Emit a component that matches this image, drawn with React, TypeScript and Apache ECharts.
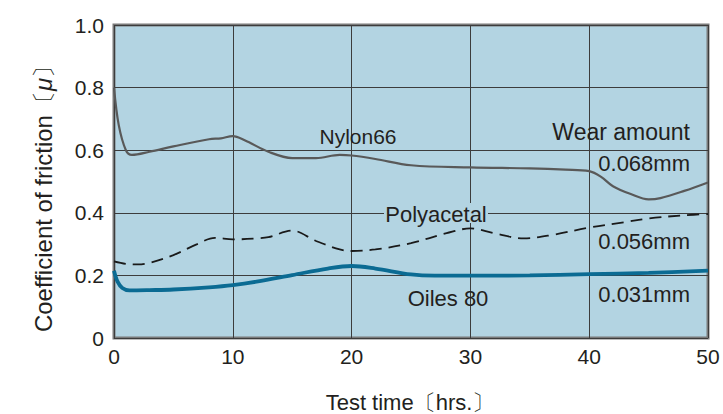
import React, { useEffect, useRef } from "react";
import * as echarts from "echarts";

const xTicks = [0, 10, 20, 30, 40, 50];
const yTicks = [0, 0.2, 0.4, 0.6, 0.8, 1.0];

const nylon66: [number, number][] = [
  [0, 0.8], [0.4, 0.68], [1, 0.6], [1.5, 0.585], [3, 0.595], [5, 0.612], [8, 0.635], [9, 0.638],
  [10, 0.645], [11, 0.632], [13, 0.595], [15, 0.575], [17, 0.575], [19, 0.585], [20, 0.583],
  [22, 0.572], [25, 0.552], [30, 0.545], [35, 0.542], [38, 0.538], [40, 0.533], [41, 0.515],
  [42, 0.485], [43.5, 0.46], [45, 0.443], [46, 0.447], [48, 0.47], [50, 0.497],
];

const polyacetal: [number, number][] = [
  [0, 0.245], [1, 0.237], [2, 0.235], [3, 0.24], [5, 0.265], [7, 0.3], [8.5, 0.32], [10, 0.315],
  [12, 0.318], [13, 0.322], [15, 0.343], [17, 0.31], [19, 0.283], [20, 0.278], [22, 0.283],
  [25, 0.303], [28, 0.335], [30, 0.35], [32, 0.335], [34.5, 0.318], [37, 0.33], [40, 0.353],
  [43, 0.37], [45, 0.382], [48, 0.392], [50, 0.396],
];

const oiles80: [number, number][] = [
  [0, 0.215], [0.3, 0.18], [0.7, 0.16], [1.3, 0.152], [3, 0.153], [5, 0.155], [8, 0.162],
  [10, 0.169], [12, 0.18], [15, 0.201], [18, 0.222], [20, 0.23], [22, 0.222], [25, 0.203],
  [27, 0.199], [30, 0.199], [35, 0.2], [40, 0.204], [45, 0.208], [50, 0.215],
];

const seriesNames = ["Nylon66", "Polyacetal", "Oiles 80"];
const wearLabels = ["Wear amount", "0.068mm", "0.056mm", "0.031mm"];

const FONT = "'Liberation Sans', Arial, sans-serif";
const BG = "#b3d4e2";
const TXT = "#231f20";

export default function App() {
  const ref = useRef<HTMLDivElement>(null);
  useEffect(() => {
    if (!ref.current) return;
    const chart = echarts.init(ref.current, undefined, { renderer: "svg" });
    const textStyle = (extra: any) => ({ fill: TXT, fontFamily: FONT, fontSize: 22, ...extra });
    chart.setOption({
      animation: false,
      backgroundColor: "#ffffff",
      grid: {
        left: 114, right: 15, top: 25, bottom: 76,
        show: true, backgroundColor: BG, borderColor: "#7a7a7a", borderWidth: 3, z: 0,
      },
      xAxis: {
        type: "value", min: xTicks[0], max: xTicks[xTicks.length - 1], interval: 10,
        axisLine: { show: false }, axisTick: { show: false },
        axisLabel: { color: TXT, fontFamily: FONT, fontSize: 21, margin: 8 },
        splitLine: { show: true, lineStyle: { color: "#3c3c3c", width: 1 } },
      },
      yAxis: {
        type: "value", min: yTicks[0], max: yTicks[yTicks.length - 1], interval: 0.2,
        axisLine: { show: false }, axisTick: { show: false },
        axisLabel: {
          color: TXT, fontFamily: FONT, fontSize: 21, margin: 10,
          formatter: (v: number) => (v === 0 ? "0" : v.toFixed(1)),
        },
        splitLine: { show: true, lineStyle: { color: "#3c3c3c", width: 1 } },
      },
      series: [
        {
          name: seriesNames[0], type: "line", data: nylon66, smooth: 0.35, symbol: "none",
          lineStyle: { color: "#595959", width: 2.2 }, z: 3,
        },
        {
          name: seriesNames[1], type: "line", data: polyacetal, smooth: 0.35, symbol: "none",
          lineStyle: { color: "#1a1a1a", width: 1.8, type: [12, 7] }, z: 3,
        },
        {
          name: seriesNames[2], type: "line", data: oiles80, smooth: 0.35, symbol: "none",
          lineStyle: { color: "#0b6b93", width: 3.8 }, z: 3,
        },
      ],
      graphic: [
        { type: "text", x: 358, y: 136, z: 10, style: textStyle({ text: seriesNames[0], fontSize: 21, align: "center", verticalAlign: "middle" }) },
        { type: "rect", x: 384, y: 203, z: 9, shape: { width: 104, height: 20 }, style: { fill: BG } },
        { type: "text", x: 436, y: 214, z: 10, style: textStyle({ text: seriesNames[1], align: "center", verticalAlign: "middle" }) },
        { type: "text", x: 448, y: 298, z: 10, style: textStyle({ text: seriesNames[2], align: "center", verticalAlign: "middle" }) },
        { type: "text", x: 690, y: 132, z: 10, style: textStyle({ text: wearLabels[0], fontSize: 23, align: "right", verticalAlign: "middle" }) },
        { type: "text", x: 690, y: 163, z: 10, style: textStyle({ text: wearLabels[1], align: "right", verticalAlign: "middle" }) },
        { type: "text", x: 690, y: 241, z: 10, style: textStyle({ text: wearLabels[2], align: "right", verticalAlign: "middle" }) },
        { type: "text", x: 690, y: 294, z: 10, style: textStyle({ text: wearLabels[3], align: "right", verticalAlign: "middle" }) },
        {
          type: "text", x: 43, y: 193, rotation: Math.PI / 2, z: 10,
          style: textStyle({
            text: "Coefficient of friction〔{mu|μ}〕", fontSize: 24, align: "center", verticalAlign: "middle",
            rich: { mu: { fontStyle: "italic", fontFamily: FONT, fontSize: 24, fill: TXT } },
          }),
        },
        {
          type: "text", x: 410, y: 402, z: 10,
          style: textStyle({ text: "Test time〔hrs.〕", align: "center", verticalAlign: "middle" }),
        },
      ],
    });
    return () => chart.dispose();
  }, []);
  return <div ref={ref} style={{ position: "absolute", left: 0, top: 0, width: 723, height: 414 }} />;
}
